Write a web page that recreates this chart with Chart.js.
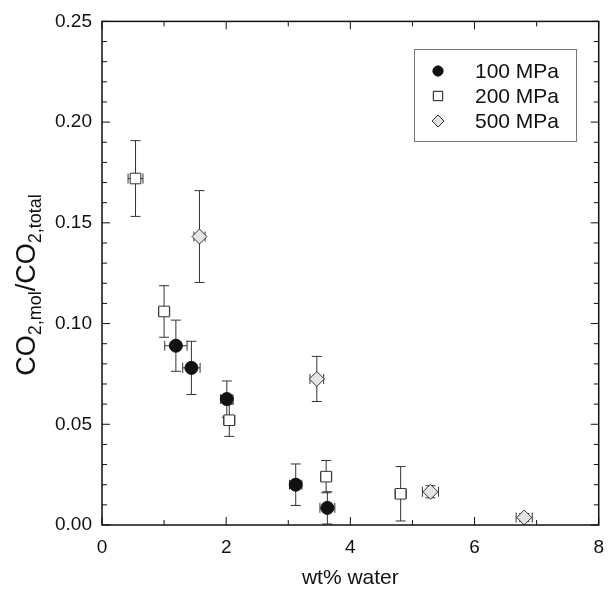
<!DOCTYPE html>
<html>
<head>
<meta charset="utf-8">
<script src="https://cdn.jsdelivr.net/npm/chart.js@4"></script>
<style>
  html, body { margin: 0; padding: 0; background: #fff; }
  #wrap { width: 615px; height: 591px; }
</style>
</head>
<body>
<div id="wrap"><canvas id="grafico" width="615" height="591"></canvas></div>
<script>
// datos
const seriesLabels = ['100 MPa', '200 MPa', '500 MPa'];

const p100X    = [1.19, 1.44, 2.01, 3.12, 3.63];
const p100Y    = [0.089, 0.078, 0.0625, 0.020, 0.0085];
const p100Xerr = [0.18, 0.14, 0.10, 0.10, 0.12];
const p100Yerr = [0.0127, 0.0132, 0.009, 0.0103, 0.008];

const p200X    = [0.54, 1.00, 2.05, 3.61, 4.81];
const p200Y    = [0.172, 0.106, 0.052, 0.024, 0.0155];
const p200Xerr = [0.12, 0.09, 0.09, 0.09, 0.09];
const p200Yerr = [0.0188, 0.0128, 0.008, 0.008, 0.0135];

const p500X    = [1.57, 3.46, 5.29, 6.80];
const p500Y    = [0.1432, 0.0725, 0.0165, 0.0037];
const p500Xerr = [0.09, 0.11, 0.13, 0.13];
const p500Yerr = [0.0228, 0.0112, 0.003, 0.002];

const xMin = 0, xMax = 8, yMin = 0, yMax = 0.25;

const FUENTE = "'Liberation Sans', Arial, Helvetica, sans-serif";

function puntos(xs, ys, exs, eys) {
    return xs.map((x, i) => ({ x: x, y: ys[i], ex: exs[i], ey: eys[i] }));
}

// barras de error (detras de los simbolos)
const barrasError = {
    id: 'barrasError',
    beforeDatasetsDraw(chart) {
        const { ctx, scales: { x, y } } = chart;
        const cap = 5;
        ctx.save();
        ctx.strokeStyle = '#333';
        ctx.lineWidth = 1;
        chart.data.datasets.forEach(ds => {
            ds.data.forEach(p => {
                const px = x.getPixelForValue(p.x);
                const py = y.getPixelForValue(p.y);
                const yt = y.getPixelForValue(p.y + p.ey);
                const yb = y.getPixelForValue(Math.max(yMin, p.y - p.ey));
                const xl = x.getPixelForValue(p.x - p.ex);
                const xr = x.getPixelForValue(p.x + p.ex);
                ctx.beginPath();
                ctx.moveTo(px, yt); ctx.lineTo(px, yb);
                ctx.moveTo(px - cap, yt); ctx.lineTo(px + cap, yt);
                if (p.y - p.ey > yMin) { ctx.moveTo(px - cap, yb); ctx.lineTo(px + cap, yb); }
                ctx.moveTo(xl, py); ctx.lineTo(xr, py);
                ctx.moveTo(xl, py - cap); ctx.lineTo(xl, py + cap);
                ctx.moveTo(xr, py - cap); ctx.lineTo(xr, py + cap);
                ctx.stroke();
            });
        });
        ctx.restore();
    }
};

// marco, ticks hacia dentro, titulo Y con subindices y leyenda
const marco = {
    id: 'marco',
    afterDraw(chart) {
        const { ctx, chartArea: a, scales: { x, y } } = chart;
        ctx.save();
        ctx.strokeStyle = '#111';
        ctx.lineWidth = 1.5;
        ctx.strokeRect(a.left, a.top, a.right - a.left, a.bottom - a.top);

        ctx.lineWidth = 1;
        ctx.beginPath();
        x.ticks.forEach(t => {
            const px = x.getPixelForValue(t.value);
            const len = (Math.round(t.value) % 2 === 0) ? 8 : 5;
            ctx.moveTo(px, a.bottom); ctx.lineTo(px, a.bottom - len);
            ctx.moveTo(px, a.top); ctx.lineTo(px, a.top + len);
        });
        y.ticks.forEach(t => {
            const py = y.getPixelForValue(t.value);
            const len = (Math.round(t.value * 100) % 5 === 0) ? 8 : 5;
            ctx.moveTo(a.left, py); ctx.lineTo(a.left + len, py);
            ctx.moveTo(a.right, py); ctx.lineTo(a.right - len, py);
        });
        ctx.stroke();

        // titulo eje Y
        ctx.fillStyle = '#111';
        ctx.translate(35, 285);
        ctx.rotate(-Math.PI / 2);
        const partes = [
            { t: 'CO', sub: false }, { t: '2,mol', sub: true },
            { t: '/CO', sub: false }, { t: '2,total', sub: true }
        ];
        const fMain = '27px ' + FUENTE, fSub = '18px ' + FUENTE;
        let total = 0;
        partes.forEach(p => { ctx.font = p.sub ? fSub : fMain; total += ctx.measureText(p.t).width; });
        let cx = -total / 2;
        ctx.textBaseline = 'alphabetic';
        ctx.textAlign = 'left';
        partes.forEach(p => {
            ctx.font = p.sub ? fSub : fMain;
            ctx.fillText(p.t, cx, p.sub ? 6 : 0);
            cx += ctx.measureText(p.t).width;
        });
        ctx.restore();

        // leyenda
        ctx.save();
        const bx = 414, by = 49, bw = 162, bh = 92;
        ctx.strokeStyle = '#777';
        ctx.lineWidth = 1;
        ctx.strokeRect(bx + 0.5, by + 0.5, bw, bh);
        ctx.font = '21px ' + FUENTE;
        ctx.textBaseline = 'middle';
        ctx.fillStyle = '#111';
        chart.data.datasets.forEach((ds, i) => {
            const ly = by + 22 + i * 25;
            Chart.helpers.drawPoint(ctx, {
                pointStyle: ds.pointStyle,
                radius: ds.legendRadius,
                borderWidth: 1
            }, bx + 24, ly);
            ctx.fillStyle = ds.backgroundColor;
            ctx.strokeStyle = ds.borderColor;
            ctx.fill();
            ctx.stroke();
            ctx.fillStyle = '#111';
            ctx.fillText(ds.label, bx + 61, ly + 1);
        });
        ctx.restore();
    }
};

new Chart(document.getElementById('grafico'), {
    type: 'scatter',
    data: {
        datasets: [
            {
                label: seriesLabels[0],
                data: puntos(p100X, p100Y, p100Xerr, p100Yerr),
                pointStyle: 'circle', pointRadius: 6.5, legendRadius: 5,
                backgroundColor: '#111', borderColor: '#111', borderWidth: 1
            },
            {
                label: seriesLabels[1],
                data: puntos(p200X, p200Y, p200Xerr, p200Yerr),
                pointStyle: 'rect', pointRadius: 7.5, legendRadius: 6.5,
                backgroundColor: '#fff', borderColor: '#333', borderWidth: 1
            },
            {
                label: seriesLabels[2],
                data: puntos(p500X, p500Y, p500Xerr, p500Yerr),
                pointStyle: 'rectRot', pointRadius: 7.5, legendRadius: 6,
                backgroundColor: '#e4e4e4', borderColor: '#333', borderWidth: 1
            }
        ]
    },
    options: {
        responsive: false,
        animation: false,
        events: [],
        layout: { padding: { top: 20, right: 6, left: 0, bottom: 0 } },
        plugins: { legend: { display: false }, tooltip: { enabled: false } },
        scales: {
            x: {
                type: 'linear', min: xMin, max: xMax,
                afterFit: s => { s.height = 66; },
                grid: { display: false, drawTicks: false },
                border: { display: false },
                ticks: {
                    stepSize: 1, autoSkip: false, padding: 11,
                    color: '#111', font: { family: FUENTE, size: 19 },
                    callback: v => (Math.round(v) % 2 === 0 ? v : '')
                },
                title: {
                    display: true, text: 'wt% water', color: '#111',
                    font: { family: FUENTE, size: 21 },
                    padding: { top: 0, bottom: 0 }
                }
            },
            y: {
                type: 'linear', min: yMin, max: yMax,
                afterFit: s => { s.width = 102; },
                grid: { display: false, drawTicks: false },
                border: { display: false },
                ticks: {
                    stepSize: 0.01, autoSkip: false, padding: 10,
                    color: '#111', font: { family: FUENTE, size: 19 },
                    callback: v => (Math.round(v * 100) % 5 === 0 ? v.toFixed(2) : '')
                }
            }
        }
    },
    plugins: [barrasError, marco]
});
</script>
</body>
</html>
